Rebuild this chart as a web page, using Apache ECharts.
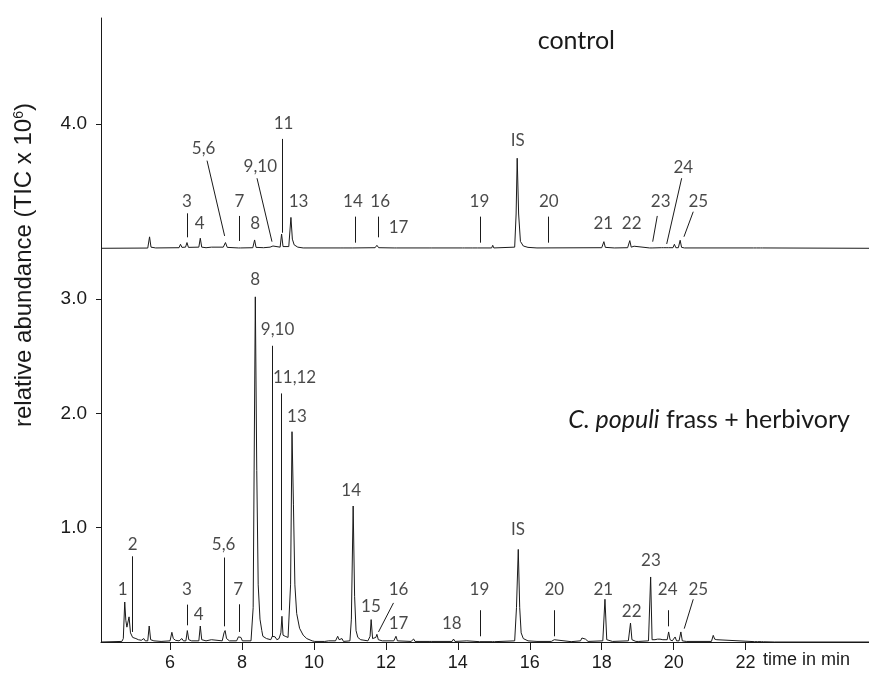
<!DOCTYPE html>
<html>
<head>
    <meta charset="utf-8">
    <script src="https://cdn.jsdelivr.net/npm/echarts@6/dist/echarts.min.js"></script>
    <style>
        html, body { margin: 0; padding: 0; background: #fff; }
        #main { width: 869px; height: 678px; }
    </style>
</head>
<body>
<div id="main"></div>
<script>
    // x: retention time (min), y: relative abundance (TIC x 10^6)
    const xTicks = [6, 8, 10, 12, 14, 16, 18, 20, 22];
    const yTickValues = [1, 2, 3, 4.533];
    const yTickLabels = ['1.0', '2.0', '3.0', '4.0'];

    // control trace: heights above its own baseline
    const controlBase = 3.445;
    const controlTrace = [
        [4.08, 0], [5.38, 0.002], [5.43, 0.10], [5.47, 0.01], [5.6, 0.003], [6.25, 0.005], [6.29, 0.035], [6.33, 0.008],
        [6.43, 0.01], [6.47, 0.05], [6.51, 0.008], [6.8, 0.01], [6.84, 0.088], [6.88, 0.01], [7.0, 0.005], [7.15, 0.01],
        [7.2, 0.003], [7.48, 0.01], [7.54, 0.05], [7.59, 0.008], [7.9, 0.003], [7.93, 0.018], [7.96, 0.003], [8.3, 0.005],
        [8.35, 0.073], [8.39, 0.008], [8.6, 0.005], [8.78, 0.01], [8.82, 0.025], [8.86, 0.02], [8.9, 0.005], [9.06, 0.01],
        [9.10, 0.125], [9.14, 0.015], [9.3, 0.015], [9.36, 0.27], [9.40, 0.08], [9.45, 0.03], [9.55, 0.01], [9.7, 0.003],
        [10.75, 0.003], [10.78, 0.013], [10.81, 0.003], [11.08, 0.003], [11.1, 0.01], [11.12, 0.003], [11.7, 0.005],
        [11.75, 0.026], [11.8, 0.005], [12.23, 0.003], [12.26, 0.018], [12.29, 0.003], [13.2, 0.003], [13.23, 0.01],
        [13.26, 0.003], [14.13, 0.003], [14.16, 0.01], [14.19, 0.003], [14.34, 0.003], [14.37, 0.018], [14.40, 0.003],
        [14.55, 0.003], [14.57, 0.01], [14.6, 0.003], [14.94, 0.003], [14.97, 0.026], [15.0, 0.003], [15.58, 0.01],
        [15.62, 0.3], [15.65, 0.788], [15.69, 0.3], [15.74, 0.06], [15.82, 0.02], [15.95, 0.008], [16.2, 0.003],
        [18.0, 0.005], [18.06, 0.058], [18.1, 0.008], [18.35, 0.003], [18.72, 0.005], [18.78, 0.067], [18.82, 0.01],
        [18.9, 0.018], [18.95, 0.005], [19.33, 0.003], [19.36, 0.013], [19.4, 0.003], [19.66, 0.005], [19.69, 0.013],
        [19.72, 0.005], [19.79, 0.005], [19.82, 0.018], [19.86, 0.005], [19.98, 0.005], [20.02, 0.035], [20.06, 0.005],
        [20.13, 0.005], [20.18, 0.07], [20.22, 0.008], [20.3, 0.003], [22.22, 0.003], [22.26, 0.013], [22.3, 0.003],
        [22.41, 0.003], [22.44, 0.009], [22.47, 0.003], [25.43, 0]
    ];

    // C. populi frass + herbivory trace
    const herbTrace = [
        [4.08, 0], [4.66, 0.005], [4.70, 0.03], [4.74, 0.35], [4.77, 0.19], [4.80, 0.13], [4.86, 0.22], [4.90, 0.08],
        [4.96, 0.04], [5.05, 0.03], [5.12, 0.02], [5.15, 0.035], [5.2, 0.015], [5.27, 0.03], [5.31, 0.01], [5.38, 0.01],
        [5.42, 0.14], [5.46, 0.02], [5.55, 0.01], [5.75, 0.005], [6.0, 0.01], [6.05, 0.085], [6.09, 0.03], [6.15, 0.015],
        [6.25, 0.01], [6.33, 0.03], [6.37, 0.01], [6.44, 0.01], [6.48, 0.10], [6.52, 0.02], [6.60, 0.01], [6.80, 0.01],
        [6.84, 0.14], [6.88, 0.02], [7.0, 0.01], [7.15, 0.02], [7.2, 0.005], [7.45, 0.01], [7.50, 0.08], [7.53, 0.10],
        [7.57, 0.03], [7.65, 0.01], [7.85, 0.01], [7.90, 0.045], [7.94, 0.03], [7.97, 0.04], [8.01, 0.01], [8.25, 0.01],
        [8.31, 0.3], [8.37, 3.02], [8.41, 1.5], [8.45, 0.5], [8.50, 0.2], [8.55, 0.1], [8.58, 0.05], [8.62, 0.06],
        [8.68, 0.03], [8.80, 0.02], [8.84, 0.05], [8.88, 0.04], [8.92, 0.045], [8.97, 0.02], [9.03, 0.03], [9.08, 0.08],
        [9.11, 0.225], [9.14, 0.06], [9.20, 0.05], [9.28, 0.04], [9.35, 0.5], [9.39, 1.84], [9.43, 1.2], [9.47, 0.5],
        [9.52, 0.25], [9.6, 0.12], [9.7, 0.06], [9.8, 0.03], [9.95, 0.01], [9.99, 0.025], [10.02, 0.005], [10.3, 0.005],
        [10.41, 0.01], [10.45, 0.005], [10.6, 0.01], [10.66, 0.05], [10.70, 0.02], [10.78, 0.03], [10.82, 0.005],
        [11.0, 0.01], [11.04, 0.2], [11.09, 1.19], [11.13, 0.4], [11.17, 0.1], [11.22, 0.04], [11.3, 0.02], [11.5, 0.01],
        [11.56, 0.05], [11.59, 0.196], [11.63, 0.03], [11.68, 0.02], [11.72, 0.04], [11.75, 0.067], [11.79, 0.02],
        [11.9, 0.01], [12.22, 0.01], [12.28, 0.05], [12.32, 0.01], [12.7, 0.005], [12.77, 0.026], [12.81, 0.005],
        [13.2, 0.005], [13.23, 0.01], [13.26, 0.005], [13.84, 0.005], [13.88, 0.026], [13.92, 0.005], [14.25, 0.01],
        [14.28, 0.003], [14.6, 0.003], [14.62, 0.01], [14.65, 0.003], [14.96, 0.003], [14.99, 0.015], [15.02, 0.003],
        [15.58, 0.01], [15.63, 0.3], [15.68, 0.81], [15.72, 0.3], [15.76, 0.08], [15.82, 0.03], [15.95, 0.01],
        [16.2, 0.005], [16.6, 0.005], [16.65, 0.015], [16.68, 0.02], [16.72, 0.005], [17.15, 0.003], [17.17, 0.01],
        [17.2, 0.003], [17.41, 0.01], [17.45, 0.035], [17.5, 0.02], [17.55, 0.025], [17.58, 0.03], [17.62, 0.005],
        [18.03, 0.01], [18.09, 0.374], [18.14, 0.02], [18.3, 0.005], [18.74, 0.01], [18.80, 0.166], [18.84, 0.02],
        [18.95, 0.005], [18.99, 0.02], [19.03, 0.005], [19.3, 0.01], [19.36, 0.569], [19.40, 0.02], [19.48, 0.02],
        [19.55, 0.025], [19.62, 0.025], [19.7, 0.02], [19.76, 0.02], [19.82, 0.02], [19.86, 0.088], [19.9, 0.02],
        [19.96, 0.01], [20.04, 0.044], [20.08, 0.01], [20.15, 0.01], [20.2, 0.088], [20.24, 0.01], [20.35, 0.005],
        [21.05, 0.005], [21.1, 0.058], [21.14, 0.025], [21.2, 0.02], [21.25, 0.005], [22.25, 0.003], [22.29, 0.018],
        [22.33, 0.003], [22.44, 0.003], [22.47, 0.01], [22.5, 0.002], [22.8, 0], [25.43, 0]
    ];

    // peak labels: [text, t, y]
    const peakLabels = [
        ['3', 6.472, 3.853], ['4', 6.822, 3.658], ['5,6', 6.933, 4.314], ['7', 7.925, 3.853], ['8', 8.369, 3.658],
        ['9,10', 8.508, 4.159], ['11', 9.156, 4.533], ['13', 9.572, 3.853], ['14', 11.083, 3.853], ['16', 11.842, 3.853],
        ['17', 12.35, 3.629], ['19', 14.6, 3.853], ['IS', 15.667, 4.387], ['20', 16.528, 3.853], ['21', 18.044, 3.658],
        ['22', 18.833, 3.658], ['23', 19.639, 3.853], ['24', 20.267, 4.154], ['25', 20.683, 3.853],
        ['1', 4.683, 0.459], ['2', 4.961, 0.853], ['3', 6.472, 0.459], ['4', 6.794, 0.240], ['5,6', 7.489, 0.853],
        ['7', 7.897, 0.459], ['8', 8.369, 3.173], ['9,10', 8.989, 2.736], ['11,12', 9.461, 2.312], ['13', 9.528, 1.976],
        ['14', 11.036, 1.328], ['15', 11.583, 0.313], ['16', 12.35, 0.459], ['17', 12.35, 0.161], ['18', 13.833, 0.161],
        ['19', 14.6, 0.459], ['IS', 15.675, 0.984], ['20', 16.683, 0.459], ['21', 18.044, 0.459], ['22', 18.833, 0.269],
        ['23', 19.369, 0.715], ['24', 19.833, 0.459], ['25', 20.683, 0.459]
    ];

    // leader lines: [t1, y1, t2, y2]
    const leaders = [
        [6.489, 3.751, 6.489, 3.541], [7.028, 4.212, 7.517, 3.553], [7.925, 3.728, 7.925, 3.509],
        [8.417, 4.058, 8.833, 3.503], [9.119, 4.402, 9.119, 3.581], [11.156, 3.722, 11.156, 3.494],
        [11.794, 3.722, 11.794, 3.541], [14.619, 3.722, 14.619, 3.494], [16.517, 3.722, 16.517, 3.494],
        [19.544, 3.728, 19.417, 3.503], [20.222, 4.058, 19.806, 3.483], [20.544, 3.765, 20.286, 3.546],
        [4.944, 0.750, 4.944, 0.088], [6.481, 0.327, 6.481, 0.146], [7.508, 0.739, 7.508, 0.137],
        [7.917, 0.330, 7.917, 0.088], [8.842, 2.592, 8.842, 0.044], [9.078, 2.175, 9.078, 0.278],
        [12.211, 0.342, 11.794, 0.088], [14.619, 0.278, 14.619, 0.050], [16.675, 0.278, 16.675, 0.050],
        [19.861, 0.278, 19.861, 0.137], [20.544, 0.374, 20.294, 0.117]
    ];

    const chart = echarts.init(document.getElementById('main'));
    const ink = '#1a1a1a';
    const labelFont = 'Lato, "Open Sans", sans-serif';
    const axisFont = '"Liberation Sans", Arial, sans-serif';

    chart.setOption({
        backgroundColor: '#ffffff',
        animation: false,
        grid: { left: 101, right: 0, top: 18, bottom: 36 },
        xAxis: {
            type: 'value', min: 4.08, max: 25.43,
            splitLine: { show: false },
            axisLine: { lineStyle: { color: ink, width: 1 } },
            axisTick: { customValues: xTicks, length: 8, inside: false, lineStyle: { color: ink } },
            axisLabel: { customValues: xTicks, color: ink, fontSize: 18, fontFamily: axisFont, margin: 12 }
        },
        yAxis: {
            type: 'value', min: 0, max: 5.46,
            splitLine: { show: false },
            axisLine: { show: true, lineStyle: { color: ink, width: 1 } },
            axisTick: { show: true, customValues: yTickValues, length: 5, lineStyle: { color: ink } },
            axisLabel: {
                customValues: yTickValues, color: ink, fontSize: 19, fontFamily: axisFont, margin: 14,
                formatter: (v) => {
                    const i = yTickValues.findIndex(x => Math.abs(x - v) < 1e-6);
                    return i >= 0 ? yTickLabels[i] : '';
                }
            }
        },
        graphic: [
            {
                type: 'text', x: 24, y: 265, rotation: Math.PI / 2,
                style: {
                    text: '{a|relative abundance (TIC x 10}{s|6}{a|)}',
                    align: 'center', verticalAlign: 'middle',
                    rich: {
                        a: { fontSize: 24, fontFamily: axisFont, fill: ink },
                        s: { fontSize: 14, fontFamily: axisFont, fill: ink, verticalAlign: 'top', padding: [0, 0, 10, 0] }
                    }
                }
            },
            {
                type: 'text', x: 615, y: 41,
                style: { text: 'control', font: '25px ' + labelFont, fill: ink, align: 'right', verticalAlign: 'middle' }
            },
            {
                type: 'text', x: 850, y: 420,
                style: {
                    text: '{i|C. populi}{n| frass + herbivory}', align: 'right', verticalAlign: 'middle',
                    rich: {
                        i: { fontSize: 25, fontFamily: labelFont, fontStyle: 'italic', fill: ink },
                        n: { fontSize: 25, fontFamily: labelFont, fill: ink }
                    }
                }
            },
            {
                type: 'text', x: 850, y: 660,
                style: { text: 'time in min', font: '18px ' + axisFont, fill: ink, align: 'right', verticalAlign: 'middle' }
            }
        ],
        series: [
            {
                type: 'line', name: 'control', showSymbol: false, symbol: 'none',
                lineStyle: { color: ink, width: 1 },
                data: controlTrace.map(p => [p[0], p[1] + controlBase])
            },
            {
                type: 'line', name: 'herbivory', showSymbol: false, symbol: 'none',
                lineStyle: { color: ink, width: 1 },
                data: herbTrace
            },
            {
                type: 'lines', coordinateSystem: 'cartesian2d', silent: true,
                lineStyle: { color: ink, width: 1, opacity: 1 },
                data: leaders.map(l => ({ coords: [[l[0], l[1]], [l[2], l[3]]] }))
            },
            {
                type: 'scatter', silent: true, symbolSize: 1,
                itemStyle: { color: 'rgba(0,0,0,0)' },
                label: {
                    show: true, position: 'inside', color: ink, fontSize: 17, fontFamily: labelFont,
                    formatter: (p) => p.data.name
                },
                data: peakLabels.map(l => ({ name: l[0], value: [l[1], l[2]] }))
            }
        ]
    });
</script>
</body>
</html>
